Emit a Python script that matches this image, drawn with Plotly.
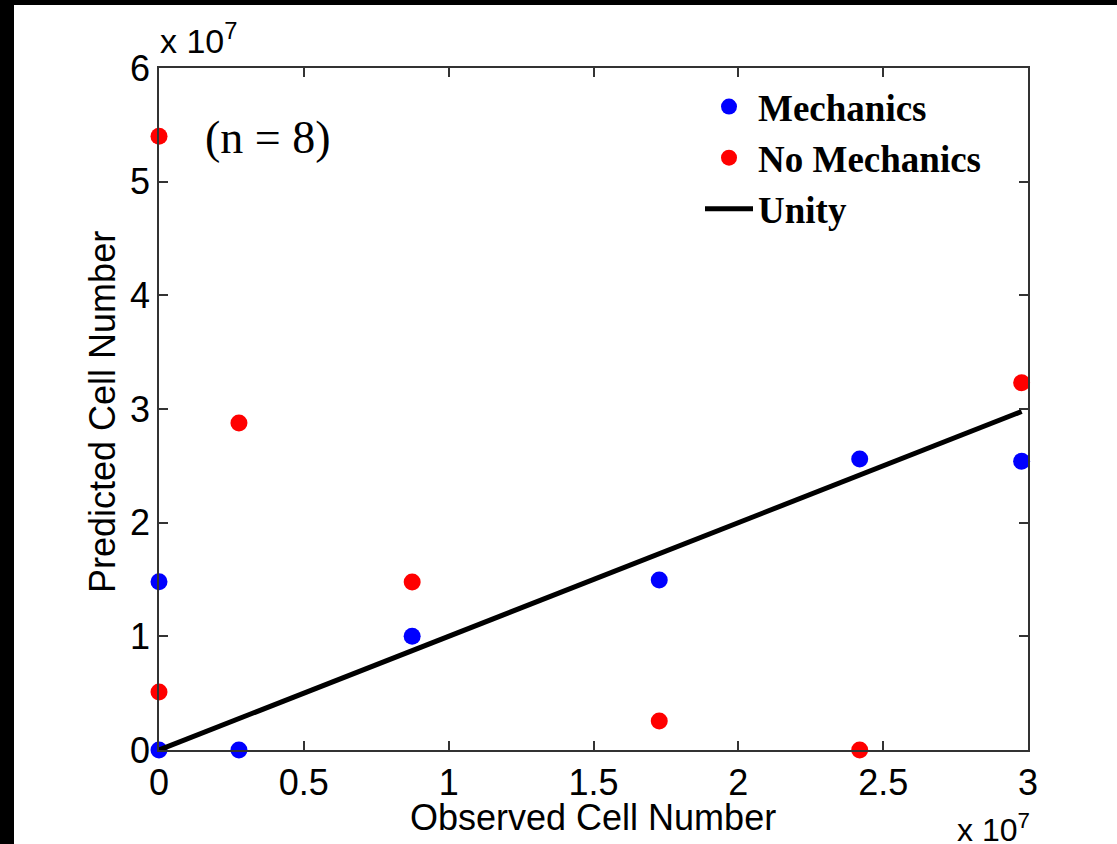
import plotly.graph_objects as go

# Data (cell numbers)
observed = [0.0, 0.0, 0.276e7, 0.874e7, 1.727e7, 2.419e7, 2.978e7]
pred_mechanics = [0.0, 1.48e7, 0.0, 1.00e7, 1.495e7, 2.56e7, 2.54e7]
obs_no_mech = [0.0, 0.0, 0.276e7, 0.874e7, 1.727e7, 2.419e7, 2.978e7]
pred_no_mechanics = [5.40e7, 0.51e7, 2.876e7, 1.478e7, 0.255e7, 0.0, 3.23e7]
unity_x = [0.0, 2.978e7]
unity_y = [0.0, 2.978e7]

x_tickvals = [0, 0.5e7, 1e7, 1.5e7, 2e7, 2.5e7, 3e7]
x_ticktext = ["0", "0.5", "1", "1.5", "2", "2.5", "3"]
y_tickvals = [0, 1e7, 2e7, 3e7, 4e7, 5e7, 6e7]
y_ticktext = ["0", "1", "2", "3", "4", "5", "6"]

fig = go.Figure()
fig.add_trace(go.Scatter(x=observed, y=pred_mechanics, mode="markers", name="<b>Mechanics</b>",
                         marker=dict(color="#0000ff", size=17), cliponaxis=False))
fig.add_trace(go.Scatter(x=obs_no_mech, y=pred_no_mechanics, mode="markers", name="<b>No Mechanics</b>",
                         marker=dict(color="#ff0000", size=17), cliponaxis=False))
fig.add_trace(go.Scatter(x=unity_x, y=unity_y, mode="lines", name="<b>Unity</b>",
                         line=dict(color="black", width=5), cliponaxis=False))

axis_common = dict(showline=True, linecolor="#333333", linewidth=1.5, mirror="ticks",
                   ticks="inside", ticklen=9, tickcolor="#333333", tickwidth=1.5,
                   showgrid=False, zeroline=False,
                   tickfont=dict(family="Liberation Sans, Arial", size=36, color="black"))

W, H = 1117, 844
L, R, T, B = 159, 89, 68, 94
pw, ph = W - L - R, H - T - B

def px(x):
    return (x - L) / pw

def py(y):
    return (H - B - y) / ph

fig.update_layout(
    width=W, height=H,
    paper_bgcolor="black", plot_bgcolor="white",
    margin=dict(l=L, r=R, t=T, b=B),
    xaxis=dict(range=[0, 3e7], tickvals=x_tickvals, ticktext=x_ticktext, **axis_common),
    yaxis=dict(range=[0, 6e7], tickvals=y_tickvals, ticktext=y_ticktext, **axis_common),
    showlegend=True,
    legend=dict(x=px(700), y=py(76), xanchor="left", yanchor="top", bgcolor="rgba(0,0,0,0)",
                font=dict(family="Liberation Serif, Times New Roman", size=37, color="black"),
                tracegroupgap=0, itemwidth=48),
    annotations=[
        dict(text="(n = 8)", x=px(268), y=py(137), xref="paper", yref="paper", showarrow=False,
             font=dict(family="Liberation Serif, Times New Roman", size=46, color="black"),
             xanchor="center", yanchor="middle"),
        dict(text="Predicted Cell Number", x=px(102), y=py(412), xref="paper", yref="paper",
             showarrow=False, textangle=-90,
             font=dict(family="Liberation Sans, Arial", size=36, color="black"),
             xanchor="center", yanchor="middle"),
        dict(text="Observed Cell Number", x=px(593), y=py(818), xref="paper", yref="paper",
             showarrow=False, font=dict(family="Liberation Sans, Arial", size=36, color="black"),
             xanchor="center", yanchor="middle"),
        dict(text="x 10<sup>7</sup>", x=px(158), y=py(62), xref="paper", yref="paper",
             showarrow=False, font=dict(family="Liberation Sans, Arial", size=34, color="black"),
             xanchor="left", yanchor="bottom"),
        dict(text="x 10<sup>7</sup>", x=px(1032), y=py(806), xref="paper", yref="paper",
             showarrow=False, font=dict(family="Liberation Sans, Arial", size=32, color="black"),
             xanchor="right", yanchor="top"),
    ],
    shapes=[
        dict(type="rect", xref="paper", yref="paper", x0=px(14), x1=px(W + 20),
             y0=py(H + 20), y1=py(5), fillcolor="white", line=dict(width=0), layer="below"),
    ],
)

fig.write_html("out.html",
               post_script="document.body.style.margin='0';document.body.style.background='white';"
                           "document.documentElement.style.background='white';")
